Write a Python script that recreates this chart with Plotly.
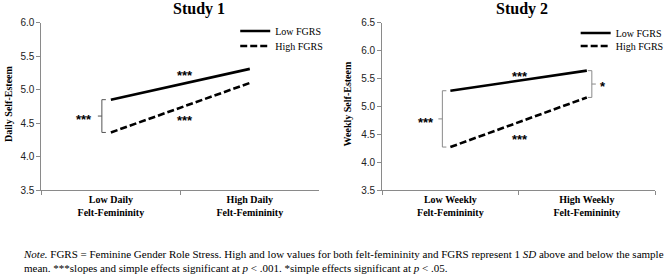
import plotly.graph_objects as go

# ---------------- data ----------------
study1_categories = ["Low Daily<br>Felt-Femininity", "High Daily<br>Felt-Femininity"]
study1_low_fgrs = [4.85, 5.31]
study1_high_fgrs = [4.36, 5.10]

study2_categories = ["Low Weekly<br>Felt-Femininity", "High Weekly<br>Felt-Femininity"]
study2_low_fgrs = [5.28, 5.64]
study2_high_fgrs = [4.27, 5.16]

study1_yticks = [3.5, 4.0, 4.5, 5.0, 5.5, 6.0]
study2_yticks = [3.5, 4.0, 4.5, 5.0, 5.5, 6.0, 6.5]

series_names = ["Low FGRS", "High FGRS"]
titles = ["Study 1", "Study 2"]
ytitles = ["Daily Self-Esteem", "Weekly Self-Esteem"]

# ---------------- layout helpers ----------------
W, H = 669, 275
SERIF = "Liberation Serif, Times New Roman, serif"
SANS = "Liberation Sans, Arial, sans-serif"
AXIS_GRAY = "#8a8a8a"


def px(x):
    return x / W


def py(y):
    return 1 - y / H


fig = go.Figure()

dash_style = "7px,3px"

fig.add_trace(go.Scatter(x=study1_categories, y=study1_low_fgrs, mode="lines",
                         name=series_names[0], line=dict(color="black", width=2.6),
                         xaxis="x", yaxis="y", legend="legend", hoverinfo="skip"))
fig.add_trace(go.Scatter(x=study1_categories, y=study1_high_fgrs, mode="lines",
                         name=series_names[1], line=dict(color="black", width=2.6, dash=dash_style),
                         xaxis="x", yaxis="y", legend="legend2", hoverinfo="skip"))
fig.add_trace(go.Scatter(x=study2_categories, y=study2_low_fgrs, mode="lines",
                         name=series_names[0], line=dict(color="black", width=2.6),
                         xaxis="x2", yaxis="y2", legend="legend3", hoverinfo="skip"))
fig.add_trace(go.Scatter(x=study2_categories, y=study2_high_fgrs, mode="lines",
                         name=series_names[1], line=dict(color="black", width=2.6, dash=dash_style),
                         xaxis="x2", yaxis="y2", legend="legend4", hoverinfo="skip"))

xaxis_common = dict(
    type="category", range=[-0.5, 1.5], tickson="boundaries",
    showline=True, linecolor=AXIS_GRAY, linewidth=1,
    ticks="outside", ticklen=4, tickcolor=AXIS_GRAY,
    showgrid=False, zeroline=False, fixedrange=True, automargin=False,
    tickfont=dict(family=SERIF, size=10, color="black", weight="bold"),
)
yaxis_common = dict(
    showline=True, linecolor=AXIS_GRAY, linewidth=1,
    ticks="outside", ticklen=4, tickcolor=AXIS_GRAY,
    showgrid=False, zeroline=False, tickformat=".1f", automargin=False,
    fixedrange=True,
    tickfont=dict(family=SANS, size=10, color="#222"),
)

d1 = [px(41.7), px(321.7)]
d2 = [px(385), px(660)]
dy = [py(190), py(22.7)]

legend_common = dict(
    bgcolor="rgba(0,0,0,0)", borderwidth=0, xanchor="left", yanchor="middle",
    font=dict(family=SERIF, size=10, color="black"), itemwidth=30,
    traceorder="normal",
)

fig.update_layout(
    width=W, height=H,
    margin=dict(l=0, r=0, t=0, b=0),
    paper_bgcolor="white", plot_bgcolor="white",
    showlegend=True,
    xaxis=dict(domain=d1, anchor="y", **xaxis_common),
    yaxis=dict(domain=dy, anchor="x", range=[3.5, 6.0], tickvals=study1_yticks, **yaxis_common),
    xaxis2=dict(domain=d2, anchor="y2", **xaxis_common),
    yaxis2=dict(domain=dy, anchor="x2", range=[3.5, 6.5], tickvals=study2_yticks, **yaxis_common),
    legend=dict(x=px(237), y=py(31), **legend_common),
    legend2=dict(x=px(237), y=py(46), **legend_common),
    legend3=dict(x=px(580), y=py(33), **legend_common),
    legend4=dict(x=px(580), y=py(46), **legend_common),
)

annotations = []
for t, cx in zip(titles, [201, 526]):
    annotations.append(dict(text=t, x=px(cx), y=py(9), xref="paper", yref="paper",
                            xanchor="center", yanchor="middle", showarrow=False,
                            font=dict(family=SERIF, size=16, color="black", weight="bold")))
for t, cx in zip(ytitles, [8, 350]):
    annotations.append(dict(text=t, x=px(cx), y=py(104), xref="paper", yref="paper",
                            xanchor="center", yanchor="middle", showarrow=False, textangle=-90,
                            font=dict(family=SERIF, size=10, color="black", weight="bold")))

star_font = dict(family=SANS, size=13, color="black", weight="bold")


def mid(v):
    return (v[0] + v[1]) / 2


annotations += [
    dict(text="***", x=0.5, y=mid(study1_low_fgrs), xref="x", yref="y", showarrow=False,
         xshift=5, yshift=9, font=star_font),
    dict(text="***", x=0.5, y=mid(study1_high_fgrs), xref="x", yref="y", showarrow=False,
         xshift=5, yshift=-13, font=star_font),
    dict(text="***", x=0.5, y=mid(study2_low_fgrs), xref="x2", yref="y2", showarrow=False,
         xshift=1, yshift=4, font=star_font),
    dict(text="***", x=0.5, y=mid(study2_high_fgrs), xref="x2", yref="y2", showarrow=False,
         xshift=1, yshift=-17, font=star_font),
    dict(text="***", x=0, y=mid([study1_low_fgrs[0], study1_high_fgrs[0]]), xref="x", yref="y",
         showarrow=False, xshift=-27, yshift=-3, font=star_font),
    dict(text="***", x=0, y=mid([study2_low_fgrs[0], study2_high_fgrs[0]]), xref="x2", yref="y2",
         showarrow=False, xshift=-24, yshift=-4, font=star_font),
    dict(text="*", x=1, y=mid([study2_low_fgrs[1], study2_high_fgrs[1]]), xref="x2", yref="y2",
         showarrow=False, xshift=16, yshift=-2, font=star_font),
]

note = ("<i>Note.</i> FGRS = Feminine Gender Role Stress. High and low values for both felt-femininity and FGRS "
        "represent 1 <i>SD</i> above and below the sample<br>"
        "mean. ***slopes and simple effects significant at <i>p</i> &lt; .001. "
        "*simple effects significant at <i>p</i> &lt; .05.")
annotations.append(dict(text=note, x=px(21), y=py(246), xref="paper", yref="paper",
                        xanchor="left", yanchor="top", align="left", showarrow=False,
                        font=dict(family=SERIF, size=11, color="black")))

fig.update_layout(annotations=annotations)


def bracket(xref, yref, anchor, top, bottom, offset, end_dir, color):
    shapes = []
    line = dict(color=color, width=1)
    shapes.append(dict(type="line", xref=xref, yref=yref, xsizemode="pixel", xanchor=anchor,
                       x0=offset, x1=offset, y0=bottom, y1=top, line=line))
    for yv in (top, bottom):
        shapes.append(dict(type="line", xref=xref, yref=yref, xsizemode="pixel", xanchor=anchor,
                           x0=offset, x1=offset + 4 * end_dir, y0=yv, y1=yv, line=line))
    m = (top + bottom) / 2
    shapes.append(dict(type="line", xref=xref, yref=yref, xsizemode="pixel", xanchor=anchor,
                       x0=offset, x1=offset - 4 * end_dir, y0=m, y1=m, line=line))
    return shapes


shapes = []
shapes += bracket("x", "y", 0, study1_low_fgrs[0], study1_high_fgrs[0], -9, 1, "#555")
shapes += bracket("x2", "y2", 0, study2_low_fgrs[0], study2_high_fgrs[0], -8, 1, "#8a8a8a")
shapes += bracket("x2", "y2", 1, study2_low_fgrs[1], study2_high_fgrs[1], 5, -1, "#8a8a8a")
fig.update_layout(shapes=shapes)

fig.write_html(
    "out.html",
    config={"displayModeBar": False, "staticPlot": True},
    post_script="document.body.style.margin='0';document.body.style.overflow='hidden';",
)
